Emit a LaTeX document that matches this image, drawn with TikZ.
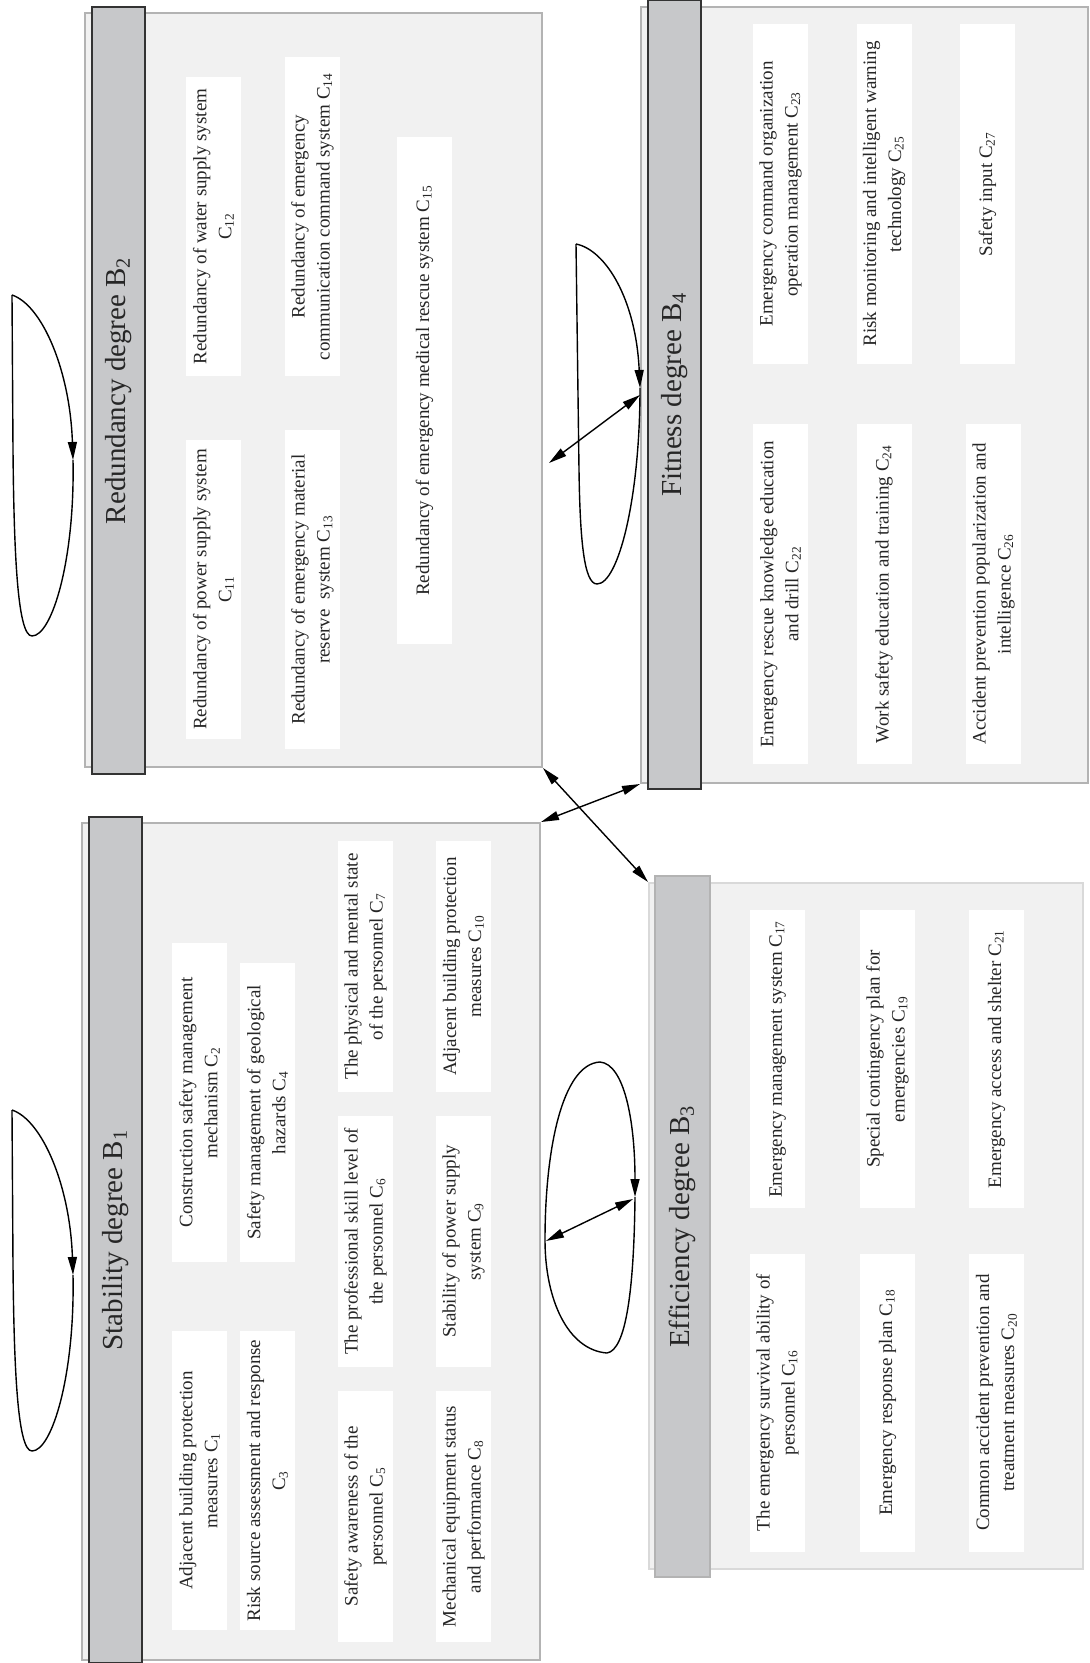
\documentclass[tikz,border=0pt]{standalone}
\usepackage{fontspec}
\setmainfont{Liberation Serif}
\usetikzlibrary{arrows.meta,fit}

\definecolor{panelgray}{HTML}{F1F1F1}
\definecolor{panelline}{HTML}{B3B3B3}
\definecolor{paneledge}{HTML}{D9D9D9}
\definecolor{headgray}{HTML}{C7C8CA}
\definecolor{headline}{HTML}{333333}
\definecolor{textgray}{HTML}{262626}

\begin{document}
\begin{tikzpicture}[x=0.5pt,y=-0.5pt,
  panel/.style={draw=panelline,fill=panelgray,line width=1pt,inner sep=0pt},
  soft panel/.style={panel,draw=paneledge},
  head bar/.style={draw=headline,fill=headgray,line width=0.9pt,inner sep=0pt},
  soft bar/.style={head bar,draw=panelline},
  head text/.style={rotate=90,font=\fontsize{14.5}{17}\selectfont,text=textgray},
  item/.style={rotate=90,fill=white,align=center,inner sep=1pt,
    minimum height=27.5pt,font=\fontsize{9.5}{12.5}\selectfont,text=textgray},
  link/.style={line width=0.7pt,{Triangle[length=9pt,width=4.5pt]}-{Triangle[length=9pt,width=4.5pt]}},
  selfloop/.style={line width=0.7pt},
  selfloop tip/.style={line width=0.7pt,-{Triangle[length=9pt,width=4.5pt]}}]

  \useasboundingbox (0,0) rectangle (1089,1663);

  % panels
  \node[panel, fit={(85,13) (542,767)}] (B2) {};
  \node[head bar, fit={(92,7) (145,774)}] (B2h) {};
  \node[head text] (B2t) at (B2h.center) {Redundancy degree B\textsubscript{2}};

  \node[panel, fit={(641,7) (1088,783)}] (B4) {};
  \node[head bar, fit={(648,0) (701,789)}] (B4h) {};
  \node[head text] (B4t) at (B4h.center) {Fitness degree B\textsubscript{4}};

  \node[panel, fit={(82,823) (540,1660)}] (B1) {};
  \node[head bar, fit={(89,817) (142,1663)}] (B1h) {};
  \node[head text] (B1t) at (B1h.center) {Stability degree B\textsubscript{1}};

  \node[soft panel, fit={(649,883) (1083,1569)}] (B3) {};
  \node[soft bar, fit={(655,876) (710,1577)}] (B3h) {};
  \node[head text] (B3t) at (B3h.center) {Efficiency degree B\textsubscript{3}};

  % redundancy items
  \node[item, minimum width=149.5pt] (C11) at (213.5,589.5) {Redundancy of power supply system\\C\textsubscript{11}};
  \node[item, minimum width=149.5pt] (C12) at (213.5,226.5) {Redundancy of water supply system\\C\textsubscript{12}};
  \node[item, minimum width=159.5pt] (C13) at (312.5,589.5) {Redundancy of emergency material\\reserve~ system C\textsubscript{13}};
  \node[item, minimum width=159.5pt] (C14) at (312.5,216.5) {Redundancy of emergency\\communication command system C\textsubscript{14}};
  \node[item, minimum width=253.5pt] (C15) at (424.5,390.5) {Redundancy of emergency medical rescue system C\textsubscript{15}};

  % fitness items
  \node[item, minimum width=170pt] (C23) at (780.5,194) {Emergency command organization\\operation management C\textsubscript{23}};
  \node[item, minimum width=170pt] (C25) at (884,194) {Risk monitoring and intelligent warning\\technology C\textsubscript{25}};
  \node[item, minimum width=170pt] (C27) at (987.5,194) {Safety input C\textsubscript{27}};
  \node[item, minimum width=170pt] (C22) at (780.5,594) {Emergency rescue knowledge education\\and drill C\textsubscript{22}};
  \node[item, minimum width=170pt] (C24) at (884,594) {Work safety education and training C\textsubscript{24}};
  \node[item, minimum width=170pt] (C26) at (993.5,594) {Accident prevention popularization and\\intelligence C\textsubscript{26}};

  % stability items
  \node[item, minimum width=159.5pt] (C2) at (199.5,1102.5) {Construction safety management\\mechanism C\textsubscript{2}};
  \node[item, minimum width=149.5pt] (C4) at (267.5,1112.5) {Safety management of geological\\hazards C\textsubscript{4}};
  \node[item, minimum width=149.5pt] (C1) at (199.5,1480.5) {Adjacent building protection\\measures C\textsubscript{1}};
  \node[item, minimum width=149.5pt] (C3) at (267.5,1480.5) {Risk source assessment and response\\C\textsubscript{3}};
  \node[item, minimum width=125.5pt] (C7) at (365.5,966.5) {The physical and mental state\\of the personnel C\textsubscript{7}};
  \node[item, minimum width=125.5pt] (C10) at (463.5,966.5) {Adjacent building protection\\measures C\textsubscript{10}};
  \node[item, minimum width=125.5pt] (C6) at (365.5,1241.5) {The professional skill level of\\the personnel C\textsubscript{6}};
  \node[item, minimum width=125.5pt] (C9) at (463.5,1241.5) {Stability of power supply\\system C\textsubscript{9}};
  \node[item, minimum width=125.5pt] (C5) at (365.5,1516.5) {Safety awareness of the\\personnel C\textsubscript{5}};
  \node[item, minimum width=125.5pt] (C8) at (463.5,1516.5) {Mechanical equipment status\\and performance C\textsubscript{8}};

  % efficiency items
  \node[item, minimum width=149pt] (C17) at (777.5,1059) {Emergency management system C\textsubscript{17}};
  \node[item, minimum width=149pt] (C19) at (887.5,1059) {Special contingency plan for\\emergencies C\textsubscript{19}};
  \node[item, minimum width=149pt] (C21) at (996.5,1059) {Emergency access and shelter C\textsubscript{21}};
  \node[item, minimum width=149pt] (C16) at (777.5,1402.5) {The emergency survival ability of\\personnel C\textsubscript{16}};
  \node[item, minimum width=149pt] (C18) at (887.5,1402.5) {Emergency response plan C\textsubscript{18}};
  \node[item, minimum width=149pt] (C20) at (996.5,1402.5) {Common accident prevention and\\treatment measures C\textsubscript{20}};

  % self loops
  \coordinate (s2top) at (12,295);
  \coordinate (s2tip) at (73,460);
  \coordinate (s2bot) at (32,636);
  \draw[selfloop tip] (s2top) .. controls (42,305) and (70,370) .. (s2tip);
  \draw[selfloop] (s2tip) .. controls (75,560) and (52,636) .. (s2bot)
    .. controls (18,636) and (14,560) .. (13,450) -- (s2top);

  \coordinate (s1top) at (12,1110);
  \coordinate (s1tip) at (73,1275);
  \coordinate (s1bot) at (32,1451);
  \draw[selfloop tip] (s1top) .. controls (42,1120) and (70,1185) .. (s1tip);
  \draw[selfloop] (s1tip) .. controls (75,1375) and (52,1451) .. (s1bot)
    .. controls (18,1451) and (14,1375) .. (13,1265) -- (s1top);

  \coordinate (s4top) at (576,244);
  \coordinate (s4tip) at (640,388);
  \coordinate (s4bot) at (597,584);
  \draw[selfloop tip] (s4top) .. controls (606,250) and (636,300) .. (s4tip);
  \draw[selfloop] (s4tip) .. controls (640,500) and (618,584) .. (s4bot)
    .. controls (584,584) and (580,540) .. (579,470) -- (s4top);

  \coordinate (s3top) at (600,1062);
  \coordinate (s3tip) at (635,1197);
  \coordinate (s3bot) at (607,1353);
  \draw[selfloop tip] (s3top) .. controls (624,1064) and (635,1120) .. (s3tip);
  \draw[selfloop] (s3tip) .. controls (634,1290) and (626,1350) .. (s3bot)
    .. controls (568,1350) and (545,1300) .. (545,1240)
    .. controls (545,1150) and (562,1064) .. (s3top);

  % links between the panels
  \coordinate (a3) at (549,463);
  \coordinate (a4) at (546,1241);
  \coordinate (a4e) at (633,1199);
  \path[link]
    (B2.south east) edge (B3.north west)
    (B1.north east) edge (B4.south west)
    (a3) edge (B4.west)
    (a4) edge (a4e);
\end{tikzpicture}
\end{document}
